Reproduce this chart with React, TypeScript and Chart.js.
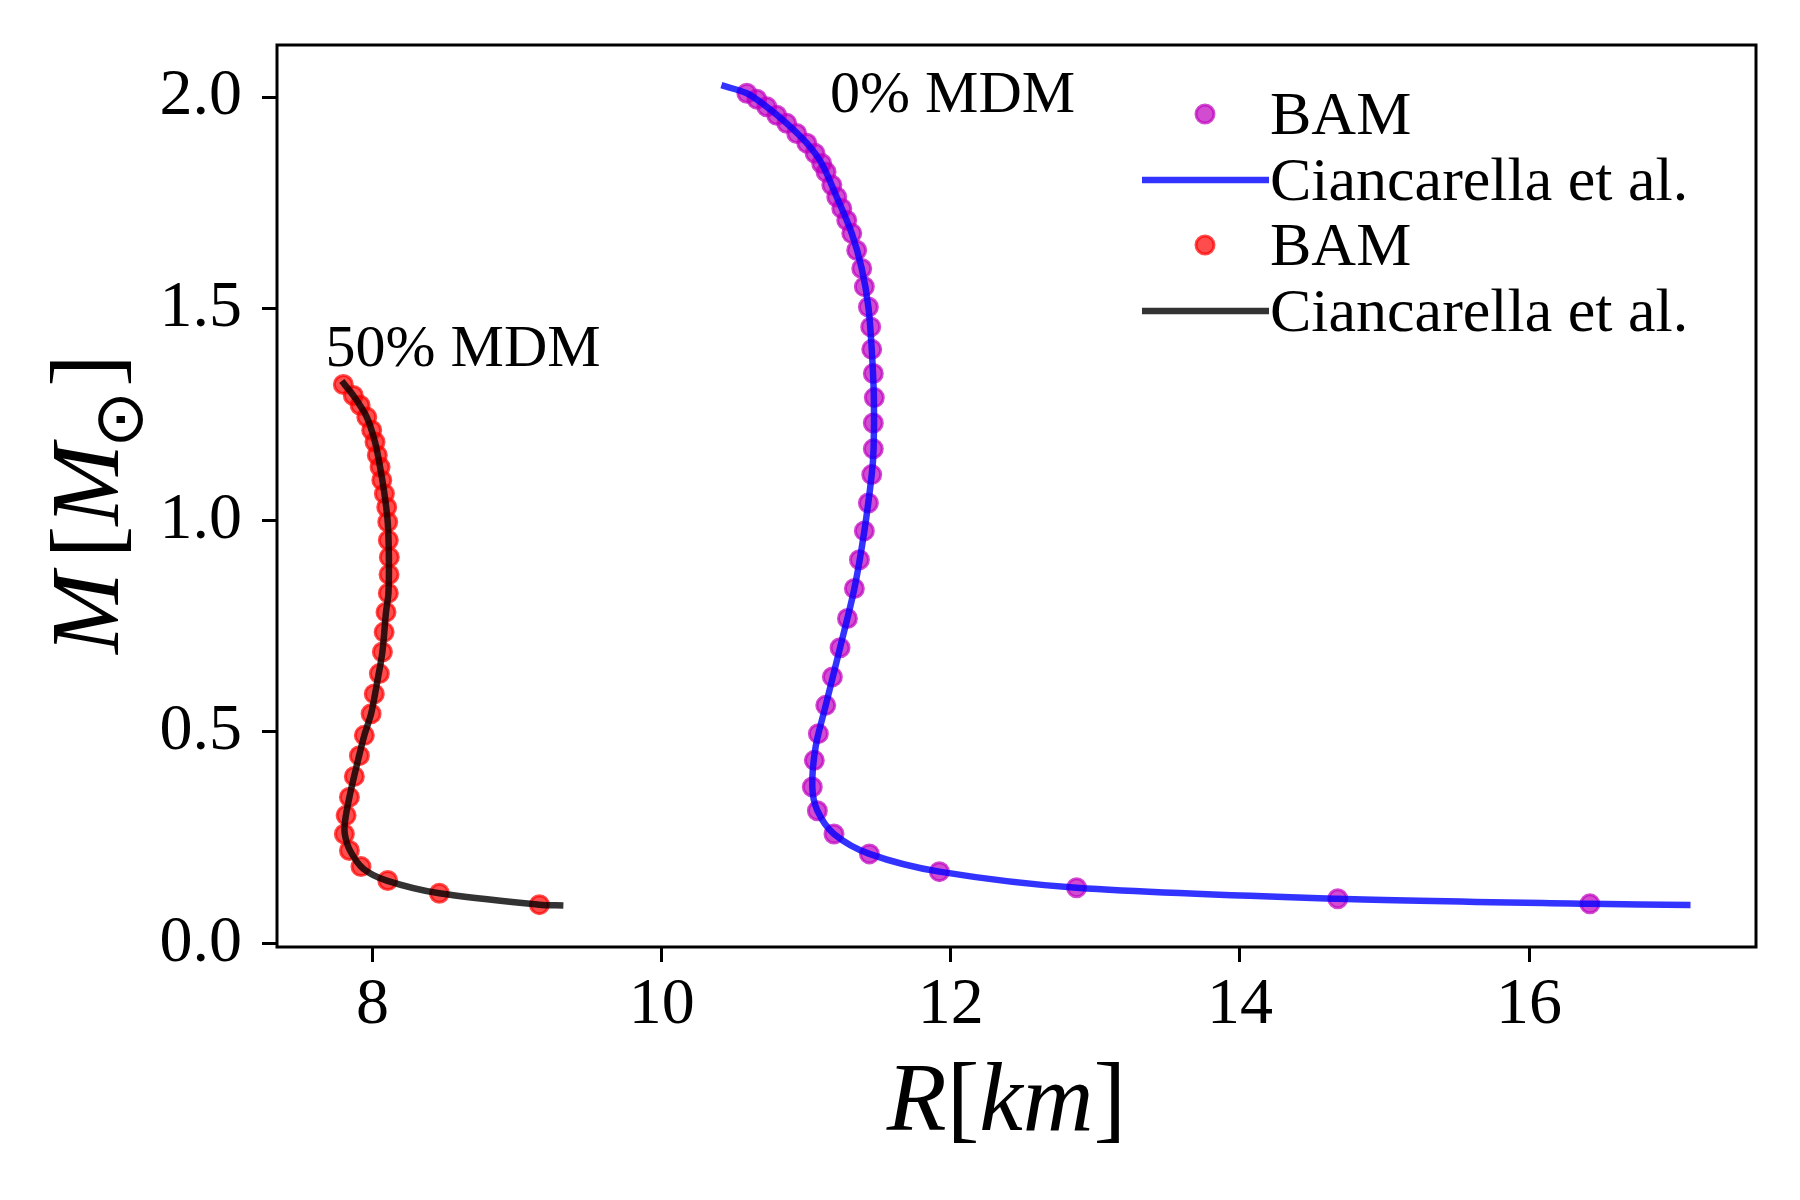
import React, { useEffect, useRef } from "react";
import { Chart, registerables } from "chart.js";

Chart.register(...registerables);

// 0% MDM : BAM points
const bam0R = [10.589, 10.658, 10.727, 10.796, 10.865, 10.934, 11.004, 11.061, 11.107, 11.137, 11.177, 11.211, 11.246, 11.28, 11.315, 11.349, 11.384, 11.402, 11.43, 11.446, 11.453, 11.464, 11.471, 11.464, 11.464, 11.453, 11.43, 11.402, 11.368, 11.333, 11.285, 11.234, 11.181, 11.135, 11.084, 11.056, 11.042, 11.077, 11.192, 11.437, 11.921, 12.87, 14.677, 16.421];
const bam0M = [2.009, 1.995, 1.977, 1.957, 1.938, 1.914, 1.891, 1.867, 1.843, 1.823, 1.792, 1.764, 1.737, 1.709, 1.678, 1.638, 1.595, 1.552, 1.504, 1.457, 1.404, 1.347, 1.29, 1.23, 1.169, 1.108, 1.041, 0.975, 0.907, 0.839, 0.768, 0.699, 0.63, 0.563, 0.496, 0.433, 0.37, 0.314, 0.259, 0.212, 0.17, 0.132, 0.106, 0.094];

// 0% MDM : Ciancarella et al. curve
const cianc0R = [10.413, 10.589, 10.727, 10.865, 11.004, 11.107, 11.211, 11.315, 11.384, 11.43, 11.453, 11.468, 11.466, 11.453, 11.402, 11.333, 11.234, 11.135, 11.065, 11.042, 11.077, 11.192, 11.437, 11.921, 12.87, 14.677, 16.421, 17.117];
const cianc0M = [2.028, 2.009, 1.977, 1.938, 1.891, 1.843, 1.764, 1.678, 1.595, 1.504, 1.404, 1.29, 1.169, 1.108, 0.975, 0.839, 0.699, 0.563, 0.465, 0.37, 0.314, 0.259, 0.212, 0.17, 0.132, 0.106, 0.094, 0.0915];

// 50% MDM : BAM points
const bam50R = [7.798, 7.867, 7.914, 7.96, 7.994, 8.017, 8.033, 8.052, 8.064, 8.082, 8.098, 8.105, 8.109, 8.116, 8.114, 8.109, 8.093, 8.08, 8.068, 8.047, 8.012, 7.99, 7.943, 7.909, 7.874, 7.84, 7.817, 7.805, 7.84, 7.92, 8.105, 8.462, 9.154];
const bam50M = [1.321, 1.295, 1.272, 1.244, 1.213, 1.185, 1.154, 1.126, 1.095, 1.063, 1.031, 0.996, 0.953, 0.913, 0.872, 0.828, 0.783, 0.736, 0.689, 0.638, 0.59, 0.543, 0.492, 0.444, 0.395, 0.346, 0.303, 0.259, 0.22, 0.182, 0.149, 0.119, 0.092];

// 50% MDM : Ciancarella et al. curve
const cianc50R = [7.787, 7.867, 7.96, 8.017, 8.052, 8.082, 8.105, 8.113, 8.11, 8.093, 8.068, 8.03, 7.99, 7.943, 7.89, 7.84, 7.81, 7.808, 7.844, 7.936, 8.098, 8.462, 9.154, 9.32];
const cianc50M = [1.329, 1.295, 1.244, 1.185, 1.126, 1.063, 0.996, 0.913, 0.828, 0.783, 0.689, 0.614, 0.543, 0.492, 0.42, 0.346, 0.29, 0.259, 0.22, 0.177, 0.149, 0.119, 0.092, 0.09];

const xTicks = [8, 10, 12, 14, 16];
const yTicks = [0, 0.5, 1.0, 1.5, 2.0];

const seriesLabels = ["BAM", "Ciancarella et al.", "BAM", "Ciancarella et al."];
const curveNotes = [
    { text: "0% MDM", r: 11.165, m: 1.965 },
    { text: "50% MDM", r: 7.675, m: 1.364 },
];

const SERIF = '"Liberation Serif", "DejaVu Serif", serif';

const toPoints = (xs: number[], ys: number[]) => xs.map((x, i) => ({ x, y: ys[i] }));

type Piece = { t: string; italic?: boolean; sun?: boolean; gap?: number };

// draws a math-like label piece by piece along the baseline, centred on 0
const drawPieces = (ctx: CanvasRenderingContext2D, pieces: Piece[], size: number) => {
    const fontOf = (p: Piece) => (p.italic ? `italic ${size}px ${SERIF}` : `${size}px ${SERIF}`);
    let sunSize = size * 0.6;
    const widths = pieces.map((p) => {
        let w;
        if (p.sun) {
            ctx.font = `100px "DejaVu Sans"`;
            const m = ctx.measureText(p.t);
            const bw = m.actualBoundingBoxLeft + m.actualBoundingBoxRight;
            sunSize = (45 / bw) * 100;
            ctx.font = `${sunSize}px "DejaVu Sans"`;
            w = ctx.measureText(p.t).width;
        } else {
            ctx.font = fontOf(p);
            w = ctx.measureText(p.t).width;
        }
        return w + (p.gap || 0);
    });
    const total = widths.reduce((a, b) => a + b, 0);
    let x = -total / 2;
    ctx.textAlign = "left";
    ctx.textBaseline = "alphabetic";
    pieces.forEach((p, i) => {
        if (p.sun) {
            ctx.font = `${sunSize}px "DejaVu Sans"`;
            const m = ctx.measureText(p.t);
            const y0 = 2 + (m.actualBoundingBoxAscent - m.actualBoundingBoxDescent) / 2;
            ctx.fillText(p.t, x - 4, y0);
        } else {
            ctx.font = fontOf(p);
            ctx.fillText(p.t, x, 0);
        }
        x += widths[i];
    });
};

const decorPlugin = {
    id: "decor",
    afterDraw(chart: any) {
        const { ctx, chartArea: a, scales } = chart;
        ctx.save();

        // frame
        ctx.strokeStyle = "#000";
        ctx.lineWidth = 3;
        ctx.strokeRect(a.left, a.top, a.right - a.left, a.bottom - a.top);

        ctx.fillStyle = "#000";

        // curve notes
        ctx.font = `60px ${SERIF}`;
        ctx.textAlign = "left";
        ctx.textBaseline = "alphabetic";
        curveNotes.forEach((n) => {
            ctx.fillText(n.text, scales.x.getPixelForValue(n.r), scales.y.getPixelForValue(n.m));
        });

        // legend
        const rowY = [69, 135, 200, 266];
        chart.data.datasets.forEach((ds: any, i: number) => {
            const y = a.top + rowY[i];
            if (ds.showLine) {
                ctx.strokeStyle = ds.borderColor;
                ctx.lineWidth = ds.borderWidth;
                ctx.beginPath();
                ctx.moveTo(a.right - 614, y);
                ctx.lineTo(a.right - 487, y);
                ctx.stroke();
            } else {
                ctx.fillStyle = ds.pointBackgroundColor;
                ctx.strokeStyle = ds.pointBorderColor;
                ctx.lineWidth = ds.pointBorderWidth;
                ctx.beginPath();
                ctx.arc(a.right - 551, y, ds.pointRadius, 0, Math.PI * 2);
                ctx.fill();
                ctx.stroke();
            }
            ctx.fillStyle = "#000";
            ctx.font = `62px ${SERIF}`;
            ctx.textAlign = "left";
            ctx.textBaseline = "alphabetic";
            ctx.fillText(seriesLabels[i], a.right - 486, y + 20);
        });

        // x axis title
        ctx.save();
        ctx.translate((a.left + a.right) / 2 - 10, a.bottom + 183);
        drawPieces(ctx, [{ t: "R", italic: true }, { t: "[" }, { t: "km", italic: true }, { t: "]" }], 98);
        ctx.restore();

        // y axis title
        ctx.save();
        ctx.translate(118, (a.top + a.bottom) / 2 + 8);
        ctx.rotate(-Math.PI / 2);
        drawPieces(
            ctx,
            [{ t: "M", italic: true, gap: 14 }, { t: "[" }, { t: "M", italic: true }, { t: "\u2299", sun: true }, { t: "]" }],
            98
        );
        ctx.restore();

        ctx.restore();
    },
};

const axisCommon = {
    type: "linear" as const,
    grid: { drawOnChartArea: false, drawTicks: true, tickLength: 15, tickWidth: 3, tickColor: "#000" },
    border: { display: false },
};

export default function App() {
    const canvasRef = useRef<HTMLCanvasElement | null>(null);

    useEffect(() => {
        const ctx = canvasRef.current?.getContext("2d");
        if (!ctx) return;

        const chart = new Chart(ctx, {
            type: "scatter",
            data: {
                datasets: [
                    {
                        data: toPoints(bam0R, bam0M),
                        showLine: false,
                        pointRadius: 9,
                        pointBorderWidth: 3,
                        pointBackgroundColor: "rgba(191,0,191,0.7)",
                        pointBorderColor: "rgba(191,0,191,0.7)",
                        order: 2,
                    },
                    {
                        data: toPoints(cianc0R, cianc0M),
                        showLine: true,
                        pointRadius: 0,
                        borderColor: "rgba(0,0,255,0.8)",
                        borderWidth: 6.5,
                        tension: 0.3,
                        order: 1,
                    },
                    {
                        data: toPoints(bam50R, bam50M),
                        showLine: false,
                        pointRadius: 9,
                        pointBorderWidth: 3,
                        pointBackgroundColor: "rgba(255,0,0,0.7)",
                        pointBorderColor: "rgba(255,0,0,0.7)",
                        order: 2,
                    },
                    {
                        data: toPoints(cianc50R, cianc50M),
                        showLine: true,
                        pointRadius: 0,
                        borderColor: "rgba(0,0,0,0.8)",
                        borderWidth: 6.5,
                        tension: 0.3,
                        order: 1,
                    },
                ] as any,
            },
            options: {
                animation: false,
                responsive: true,
                maintainAspectRatio: false,
                layout: { padding: { top: 45, right: 44, left: 0, bottom: 0 } },
                plugins: {
                    legend: { display: false },
                    tooltip: { enabled: false },
                },
                scales: {
                    x: {
                        ...axisCommon,
                        min: 7.339,
                        max: 17.57,
                        afterBuildTicks: (s: any) => {
                            s.ticks = xTicks.map((value) => ({ value }));
                        },
                        afterFit: (s: any) => {
                            s.height = 253;
                            s.paddingLeft = 0;
                            s.paddingRight = 0;
                        },
                        ticks: {
                            font: { family: SERIF, size: 66 },
                            color: "#000",
                            padding: 4,
                            maxRotation: 0,
                            autoSkip: false,
                            callback: (v: any) => String(v),
                        },
                    },
                    y: {
                        ...axisCommon,
                        min: -0.008,
                        max: 2.123,
                        afterBuildTicks: (s: any) => {
                            s.ticks = yTicks.map((value) => ({ value }));
                        },
                        afterFit: (s: any) => {
                            s.width = 277;
                            s.paddingTop = 0;
                            s.paddingBottom = 0;
                        },
                        ticks: {
                            font: { family: SERIF, size: 66 },
                            color: "#000",
                            padding: 20,
                            autoSkip: false,
                            callback: (v: any) => Number(v).toFixed(1),
                        },
                    },
                },
            },
            plugins: [decorPlugin],
        });

        return () => {
            chart.destroy();
        };
    }, []);

    return (
        <div style={{ position: "fixed", left: 0, top: 0, width: 1800, height: 1200, background: "#fff" }}>
            <canvas ref={canvasRef}></canvas>
        </div>
    );
}
